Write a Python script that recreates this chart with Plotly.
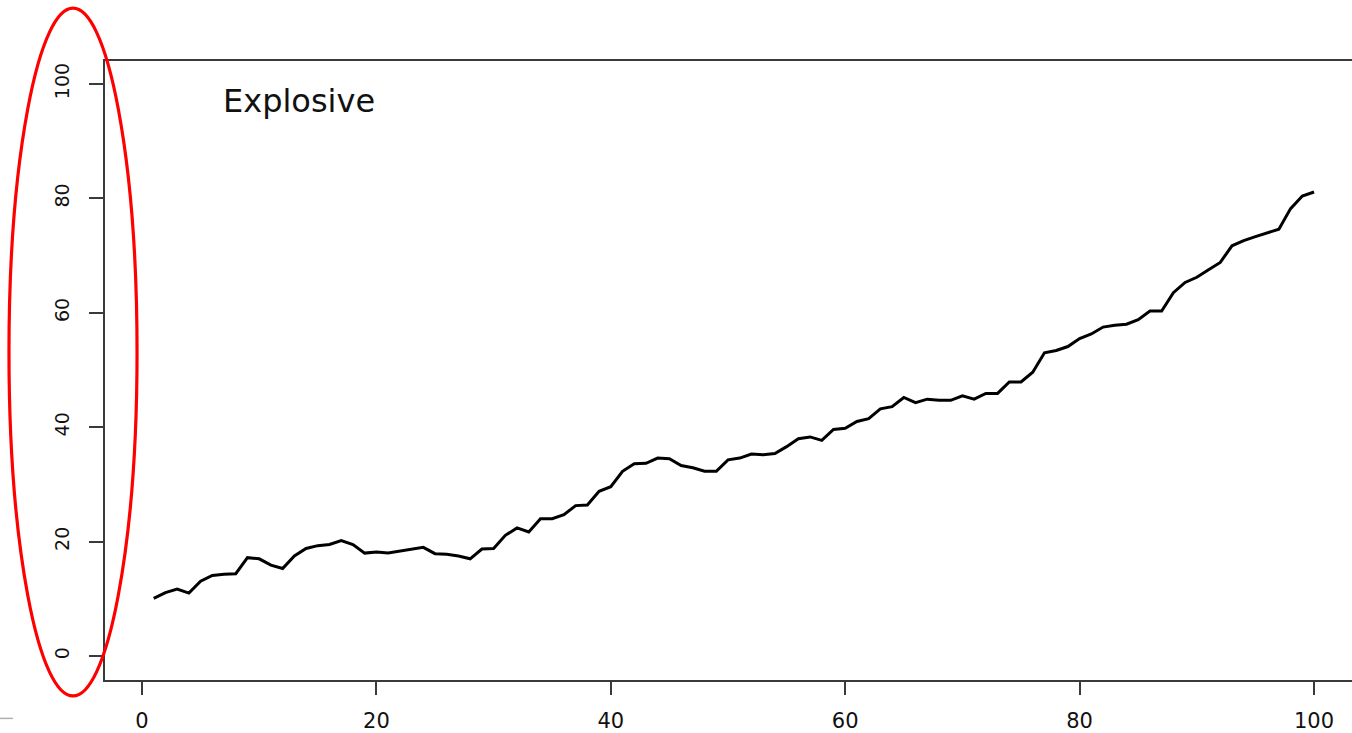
import plotly.graph_objects as go

# Simulated path: one value per step, steps 1..100
steps = list(range(1, 101))
values = [
    10.1, 11.1, 11.7, 11.0, 13.1, 14.1, 14.3, 14.4, 17.2, 17.0,
    15.9, 15.3, 17.5, 18.8, 19.3, 19.5, 20.2, 19.5, 18.0, 18.2,
    18.0, 18.3, 18.6, 19.0, 17.9, 17.8, 17.5, 17.0, 18.7, 18.8,
    21.1, 22.4, 21.7, 24.0, 24.0, 24.7, 26.3, 26.4, 28.8, 29.6,
    32.3, 33.6, 33.7, 34.6, 34.5, 33.3, 32.9, 32.3, 32.3, 34.3,
    34.6, 35.3, 35.2, 35.4, 36.6, 38.0, 38.3, 37.7, 39.6, 39.8,
    41.0, 41.5, 43.2, 43.6, 45.2, 44.3, 44.9, 44.7, 44.7, 45.5,
    44.9, 45.9, 45.9, 47.9, 47.9, 49.6, 53.0, 53.4, 54.1, 55.5,
    56.3, 57.5, 57.8, 58.0, 58.8, 60.3, 60.3, 63.5, 65.3, 66.2,
    67.5, 68.8, 71.7, 72.6, 73.3, 74.0, 74.6, 78.2, 80.4, 81.1,
]
x_ticks = [0, 20, 40, 60, 80, 100]
y_ticks = [0, 20, 40, 60, 80, 100]
panel_label = "Explosive"

AXIS = "#3a3a3a"
TEXT = "#111111"

fig = go.Figure()
fig.add_trace(go.Scatter(
    x=steps, y=values, mode="lines",
    line=dict(color="black", width=3),
    hoverinfo="skip", showlegend=False,
))

fig.add_annotation(
    x=6.7, y=97, xref="x", yref="y", text=panel_label, showarrow=False,
    xanchor="left", yanchor="middle",
    font=dict(family="DejaVu Sans", size=32, color=TEXT),
)

# Red ellipse highlighting the y axis
fig.add_shape(
    type="circle", xref="paper", yref="paper",
    x0=-0.077, x1=0.0257, y0=-0.0258, y1=1.0853,
    line=dict(color="#ff0000", width=3.2), layer="above",
)
# small stray dash in the lower-left corner
fig.add_shape(
    type="line", xref="paper", yref="paper",
    x0=-0.0842, x1=-0.0738, y0=-0.062, y1=-0.062,
    line=dict(color="#b0b0b0", width=1.5),
)

fig.update_layout(
    width=1352, height=733,
    margin=dict(l=105, r=0, t=61, b=51),
    paper_bgcolor="white", plot_bgcolor="white",
    showlegend=False,
    xaxis=dict(
        range=[-3.157, 103.24], tickvals=x_ticks, ticktext=[str(v) for v in x_ticks],
        showgrid=False, zeroline=False,
        showline=True, linecolor=AXIS, linewidth=1.6, mirror=True,
        ticks="outside", ticklen=13, tickwidth=1.6, tickcolor=AXIS,
        tickfont=dict(family="DejaVu Sans", size=21, color=TEXT),
        ticklabelstandoff=8,
    ),
    yaxis=dict(
        range=[-4.18, 104.0], tickvals=y_ticks, ticktext=[str(v) for v in y_ticks],
        showgrid=False, zeroline=False,
        showline=True, linecolor=AXIS, linewidth=1.6, mirror=False,
        ticks="outside", ticklen=14, tickwidth=1.6, tickcolor=AXIS,
        tickangle=-90,
        tickfont=dict(family="DejaVu Sans", size=19, color=TEXT),
        ticklabelstandoff=13,
    ),
)

fig.write_html("out.html")
